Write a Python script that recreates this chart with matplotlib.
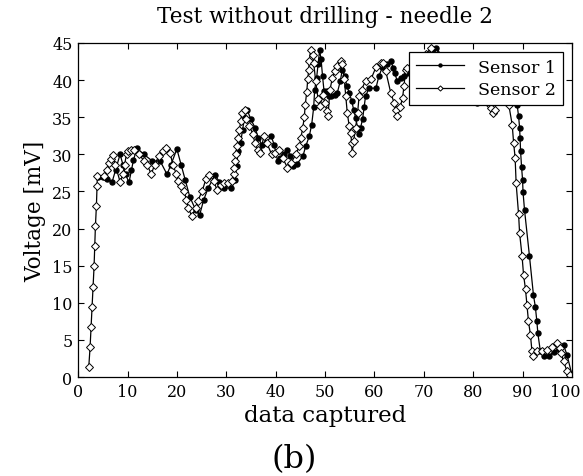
#!/usr/bin/env python3
"""Two needle sensors, test without drilling (needle 2)."""
import matplotlib
matplotlib.use("Agg")
import matplotlib.pyplot as plt
import matplotlib.transforms as mtransforms

# Sensor 1 (filled dots)
s1_x = [4.0, 5.0, 5.9, 6.9, 7.6, 8.5, 9.1, 9.6, 10.3, 10.8, 11.2, 11.9, 13.3, 15.0,
        16.6, 18.0, 18.8, 20.0, 20.9, 21.7, 22.6, 23.8, 24.6, 25.4, 26.3, 27.7, 28.6,
        29.5, 31.0, 31.8, 32.1, 32.4, 32.9, 33.3, 33.7, 34.2, 35.0, 35.8, 36.5, 37.2,
        38.0, 39.1, 39.7, 40.4, 40.9, 41.6, 42.4, 43.0, 43.6, 44.3, 45.5, 46.1, 46.8,
        47.3, 47.7, 47.9, 48.3, 48.6, 48.9, 49.2, 49.5, 49.8, 50.4, 50.8, 51.3, 52.0,
        52.5, 53.1, 53.5, 54.0, 54.4, 54.9, 55.4, 55.8, 56.2, 56.6, 56.9, 57.2, 57.6,
        57.9, 58.2, 58.9, 60.3, 60.9, 61.6, 62.6, 63.4, 63.8, 64.1, 64.6, 65.3, 66.0,
        66.7, 68.0, 69.5, 70.8, 71.7, 72.5, 74.0, 76.0, 78.0, 79.5, 80.8, 82.0, 84.0,
        86.0, 88.0, 88.9, 89.2, 89.4, 89.5, 89.6, 89.8, 90.0, 90.1, 90.4, 91.4, 92.2,
        92.6, 92.9, 93.1, 93.6, 94.3, 95.3, 96.3, 97.3, 98.3, 99.0, 100.0]
s1_y = [27.0, 26.9, 26.7, 26.3, 27.9, 30.0, 28.5, 27.3, 26.2, 27.9, 29.2, 30.8, 30.0, 29.1,
        29.1, 27.3, 28.6, 30.7, 28.5, 26.6, 24.3, 22.5, 21.8, 23.8, 25.4, 27.2, 26.3,
        25.5, 25.4, 26.5, 28.4, 30.4, 31.5, 33.3, 34.9, 36.0, 34.7, 33.6, 32.2, 31.3,
        31.5, 32.4, 31.3, 29.1, 29.5, 30.0, 30.6, 29.7, 28.4, 28.7, 29.7, 31.1, 32.4,
        34.0, 36.3, 38.7, 40.3, 42.1, 44.0, 42.8, 40.5, 38.5, 38.5, 37.8, 37.8, 38.0,
        38.3, 39.9, 41.4, 40.5, 39.2, 38.3, 37.2, 36.0, 34.9, 33.6, 32.7, 33.6, 34.7,
        36.3, 37.8, 38.9, 38.9, 40.5, 41.7, 42.2, 42.5, 41.6, 41.0, 39.9, 40.3, 40.5,
        41.0, 41.5, 42.0, 43.0, 43.9, 44.3, 43.0, 41.5, 40.0, 38.5, 36.9, 38.0, 39.0,
        39.5, 39.0, 36.7, 35.1, 33.6, 32.2, 30.4, 28.3, 26.6, 24.9, 22.5, 16.3, 11.1,
        9.4, 7.5, 5.9, 3.5, 2.8, 2.8, 3.4, 3.8, 4.3, 3.0, 0.3]

# Sensor 2 (open diamonds)
s2_x = [2.15, 2.42, 2.62, 2.82, 3.02, 3.23, 3.36, 3.5, 3.7, 3.83, 3.9, 5.2, 5.8, 6.2,
        6.6, 7.1, 7.5, 8.5, 9.1, 9.4, 9.8, 10.2, 10.8, 11.4, 12.4, 13.3, 14.0, 14.8,
        15.5, 16.3, 17.2, 17.8, 18.6, 19.2, 19.9, 20.3, 20.9, 21.5, 21.9, 22.3, 23.0,
        23.9, 24.2, 25.1, 25.9, 26.6, 27.5, 28.1, 28.9, 29.6, 30.4, 31.2, 31.5, 31.6,
        31.8, 32.0, 32.2, 32.4, 32.6, 33.0, 33.1, 33.7, 34.0, 34.7, 35.4, 35.8, 36.4,
        36.9, 37.6, 38.2, 39.2, 39.9, 40.7, 41.4, 42.4, 43.1, 44.1, 44.8, 45.1, 45.5,
        45.8, 46.0, 46.3, 46.5, 46.7, 46.8, 47.1, 47.5, 47.7, 48.1, 48.6, 49.0, 49.5,
        50.0, 50.4, 50.6, 51.0, 51.5, 52.0, 52.5, 53.2, 53.5, 53.9, 54.2, 54.5, 54.9,
        55.2, 55.4, 55.5, 55.8, 56.2, 56.6, 56.9, 57.4, 58.2, 59.3, 60.3, 61.3, 61.8,
        62.3, 63.3, 64.0, 64.3, 64.6, 65.2, 65.7, 66.0, 66.3, 66.7, 68.0, 69.5, 70.5,
        71.4, 72.5, 74.0, 76.0, 78.0, 80.0, 82.0, 83.2, 83.6, 84.0, 84.4, 84.8, 85.5,
        86.5, 87.2, 87.9, 88.2, 88.5, 88.7, 89.2, 89.4, 89.9, 90.2, 90.6, 90.9, 91.2,
        91.6, 91.9, 92.2, 92.9, 93.9, 94.9, 96.0, 97.0, 97.5, 97.8, 98.3, 99.0, 99.7]
s2_y = [1.3, 4.0, 6.7, 9.4, 12.1, 14.9, 17.6, 20.3, 23.0, 25.7, 27.1, 27.1, 27.9, 28.8,
        29.4, 29.9, 28.6, 26.3, 27.3, 28.6, 30.0, 30.4, 30.6, 30.6, 30.0, 29.1, 28.6, 27.3,
        28.6, 29.7, 30.5, 30.8, 30.2, 28.6, 27.3, 26.4, 25.7, 25.0, 23.9, 22.8, 21.7,
        22.8, 23.7, 25.0, 26.7, 27.2, 26.4, 25.2, 25.9, 26.1, 26.1, 26.4, 27.3, 28.2,
        29.1, 30.0, 31.1, 32.2, 33.3, 34.5, 35.6, 35.9, 34.7, 33.8, 32.7, 31.5, 30.6,
        30.2, 32.4, 31.5, 30.0, 30.2, 30.6, 29.5, 28.2, 28.8, 30.0, 31.1, 32.2, 33.6,
        35.0, 36.7, 38.4, 40.1, 41.4, 42.5, 44.1, 43.4, 42.3, 39.9, 37.4, 36.5, 38.0,
        36.9, 35.8, 35.1, 38.7, 40.3, 41.2, 41.9, 42.5, 42.1, 40.1, 37.8, 35.6, 33.8,
        32.9, 31.5, 30.2, 31.8, 33.6, 35.6, 37.8, 38.7, 39.9, 40.1, 41.7, 42.3, 42.3,
        41.2, 38.3, 36.9, 36.0, 35.1, 36.3, 37.6, 39.2, 41.4, 41.6, 42.0, 42.5, 43.5,
        44.3, 43.5, 42.0, 40.5, 39.5, 39.0, 38.0, 36.8, 36.2, 35.5, 36.0, 37.5, 39.0,
        39.0, 36.7, 34.0, 31.5, 29.5, 26.1, 21.9, 19.4, 16.3, 13.8, 11.8, 9.7, 7.5,
        5.7, 3.5, 2.8, 3.5, 3.5, 3.7, 4.1, 4.6, 3.9, 3.2, 2.1, 0.8, 0.3]

plt.rcParams["font.family"] = "DejaVu Serif"

fig = plt.figure(figsize=(5.83, 4.77), dpi=100)
ax = fig.add_axes([0.134, 0.2075, 0.847, 0.7005])

ax.plot(s1_x, s1_y, color="black", lw=0.9, marker="o", ms=3.6,
        mfc="black", mec="black", label="Sensor 1")
ax.plot(s2_x, s2_y, color="black", lw=0.9, marker="D", ms=4.4,
        mfc="white", mec="black", mew=0.7, label="Sensor 2")

ax.set_xlim(0, 100)
ax.set_ylim(0, 45)
ax.set_xticks(range(0, 101, 10))
ax.set_yticks(range(0, 46, 5))
ax.tick_params(direction="in", top=True, right=True, labelsize=11.5, length=4, pad=4)
for sp in ax.spines.values():
    sp.set_linewidth(0.9)

# nudge the "100" label left so it stays inside the canvas
last = ax.get_xticklabels()[-1]
last.set_transform(last.get_transform() +
                   mtransforms.ScaledTranslation(-7 / 100, 0, fig.dpi_scale_trans))

ax.set_title("Test without drilling - needle 2", fontsize=15.5, pad=15)
ax.set_xlabel("data captured", fontsize=16.5, labelpad=3)
ax.set_ylabel("Voltage [mV]", fontsize=15.5, labelpad=4)

leg = ax.legend(loc="upper right", fontsize=12.5, fancybox=False, framealpha=1,
                edgecolor="black", markerscale=0.6, borderaxespad=0.5,
                handlelength=2.8, labelspacing=0.3)
leg.get_frame().set_linewidth(0.9)

fig.text(0.505, 0.018, "(b)", fontsize=23, ha="center")

fig.savefig("out.png", dpi=100)
